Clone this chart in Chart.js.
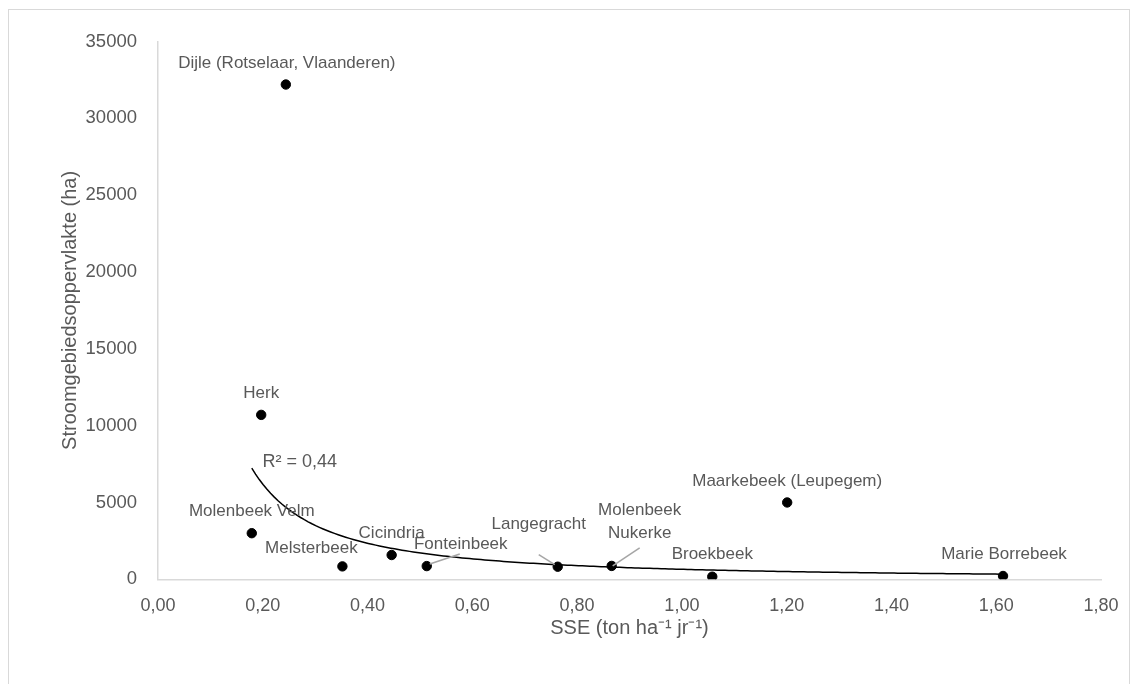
<!DOCTYPE html>
<html>
<head>
<meta charset="utf-8">
<script src="https://cdn.jsdelivr.net/npm/chart.js@4"></script>
<style>
  body { margin: 0; background: #fff; }
  #frame { position: absolute; left: 8px; top: 9px; width: 1120px; height: 700px; border: 1px solid #d9d9d9; }
  #chart { position: absolute; left: 0; top: 0; }
</style>
</head>
<body>
<div id="frame"></div>
<canvas id="chart" width="1137" height="684"></canvas>
<script>
// data
let names = ["Molenbeek Velm", "Herk", "Dijle (Rotselaar, Vlaanderen)", "Melsterbeek", "Cicindria",
  "Fonteinbeek", "Langegracht", "Molenbeek\nNukerke", "Broekbeek", "Maarkebeek (Leupegem)", "Marie Borrebeek"];
let sse = [0.179, 0.197, 0.244, 0.352, 0.446, 0.513, 0.763, 0.866, 1.058, 1.201, 1.613];
let area = [3000, 10700, 32200, 840, 1580, 860, 820, 870, 170, 5000, 215];

let xTicks = [0, 0.2, 0.4, 0.6, 0.8, 1.0, 1.2, 1.4, 1.6, 1.8];
let yTicks = [0, 5000, 10000, 15000, 20000, 25000, 30000, 35000];

// label placement (offset from the point, px) and leader lines
let labelOffset = [[0, -22], [0, -22], [1, -21], [-31, -18], [0, -22], [34, -22], [-19, -42], [28, -44], [0, -22], [0, -21], [1, -22]];
let leaders = { 5: [3, -2, 33, -12], 6: [-19, -12, -3, -2], 7: [28, -18, 1, 0] };

let grey = "#595959";
let font = "'Liberation Sans', Arial, sans-serif";

// power trendline y = a * x^b (least squares on logs, like Excel)
function powerFit(xs, ys) {
  let n = xs.length, sx = 0, sy = 0, sxx = 0, sxy = 0;
  for (let i = 0; i < n; i++) {
    let lx = Math.log(xs[i]), ly = Math.log(ys[i]);
    sx += lx; sy += ly; sxx += lx * lx; sxy += lx * ly;
  }
  let b = (n * sxy - sx * sy) / (n * sxx - sx * sx);
  let a = Math.exp((sy - b * sx) / n);
  return { a: a, b: b };
}
let fit = powerFit(sse, area);

let trendPlugin = {
  id: "trend",
  beforeDatasetsDraw(chart) {
    let ctx = chart.ctx;
    let xs = chart.scales.x, ys = chart.scales.y;
    let x0 = Math.min(...sse), x1 = Math.max(...sse);
    ctx.save();
    ctx.beginPath();
    for (let i = 0; i <= 200; i++) {
      let v = x0 + (x1 - x0) * i / 200;
      let px = xs.getPixelForValue(v), py = ys.getPixelForValue(fit.a * Math.pow(v, fit.b));
      if (i == 0) ctx.moveTo(px, py); else ctx.lineTo(px, py);
    }
    ctx.strokeStyle = "#000";
    ctx.lineWidth = 1.5;
    ctx.stroke();
    // R² label
    ctx.fillStyle = grey;
    ctx.font = "18px " + font;
    ctx.textAlign = "center";
    ctx.textBaseline = "middle";
    ctx.fillText("R\u00b2 = 0,44", xs.getPixelForValue(x0) + 48, ys.getPixelForValue(fit.a * Math.pow(x0, fit.b)) - 6);
    ctx.restore();
  },
  afterDatasetsDraw(chart) {
    let ctx = chart.ctx;
    let meta = chart.getDatasetMeta(0);
    ctx.save();
    ctx.font = "17px " + font;
    ctx.fillStyle = grey;
    ctx.textAlign = "center";
    ctx.textBaseline = "middle";
    meta.data.forEach((pt, i) => {
      let L = leaders[i];
      if (L) {
        ctx.beginPath();
        ctx.moveTo(pt.x + L[0], pt.y + L[1]);
        ctx.lineTo(pt.x + L[2], pt.y + L[3]);
        ctx.strokeStyle = "#a6a6a6";
        ctx.lineWidth = 1.5;
        ctx.stroke();
      }
      let lines = names[i].split("\n");
      let lh = 22.7;
      lines.forEach((t, k) => {
        ctx.fillText(t, pt.x + labelOffset[i][0], pt.y + labelOffset[i][1] + (k - (lines.length - 1) / 2) * lh);
      });
    });
    ctx.restore();
  }
};

let ctx = document.querySelector("#chart").getContext("2d");
let chart = new Chart(ctx, {
  type: "scatter",
  data: {
    datasets: [{
      data: sse.map((x, i) => ({ x: x, y: area[i] })),
      backgroundColor: "#000",
      borderColor: "#000",
      pointRadius: 4.7,
      pointHoverRadius: 4.7,
    }],
  },
  options: {
    responsive: false,
    animation: false,
    devicePixelRatio: 1,
    layout: { padding: { left: 48, right: 36, top: 41.5, bottom: 40.7 } },
    plugins: { legend: { display: false }, tooltip: { enabled: false } },
    scales: {
      x: {
        type: "linear",
        min: 0,
        max: 1.8,
        afterBuildTicks: (s) => { s.ticks = xTicks.map((v) => ({ value: v })); },
        afterFit: (s) => { s.height = 64; s.paddingLeft = 0; s.paddingRight = 0; },
        grid: { display: false, drawTicks: false },
        border: { display: true, color: "#d9d9d9", width: 1.5 },
        ticks: {
          padding: 16,
          color: grey,
          font: { family: font, size: 18 },
          callback: (v) => v.toFixed(2).replace(".", ","),
        },
        title: {
          display: true,
          text: "SSE (ton ha\u207b\u00b9 jr\u207b\u00b9)",
          color: grey,
          font: { family: font, size: 20 },
          padding: { top: 0, bottom: 3 },
        },
      },
      y: {
        type: "linear",
        min: 0,
        max: 35000,
        afterBuildTicks: (s) => { s.ticks = yTicks.map((v) => ({ value: v })); },
        afterFit: (s) => { s.width = 110; s.paddingTop = 0; s.paddingBottom = 0; },
        grid: { display: false, drawTicks: false },
        border: { display: true, color: "#d9d9d9", width: 1.5 },
        ticks: {
          padding: 21,
          color: grey,
          font: { family: font, size: 18.5 },
          callback: (v) => String(v),
        },
        title: {
          display: true,
          text: "Stroomgebiedsoppervlakte (ha)",
          color: grey,
          font: { family: font, size: 20 },
          padding: { top: 10, bottom: 0 },
        },
      },
    },
  },
  plugins: [trendPlugin],
});
</script>
</body>
</html>
